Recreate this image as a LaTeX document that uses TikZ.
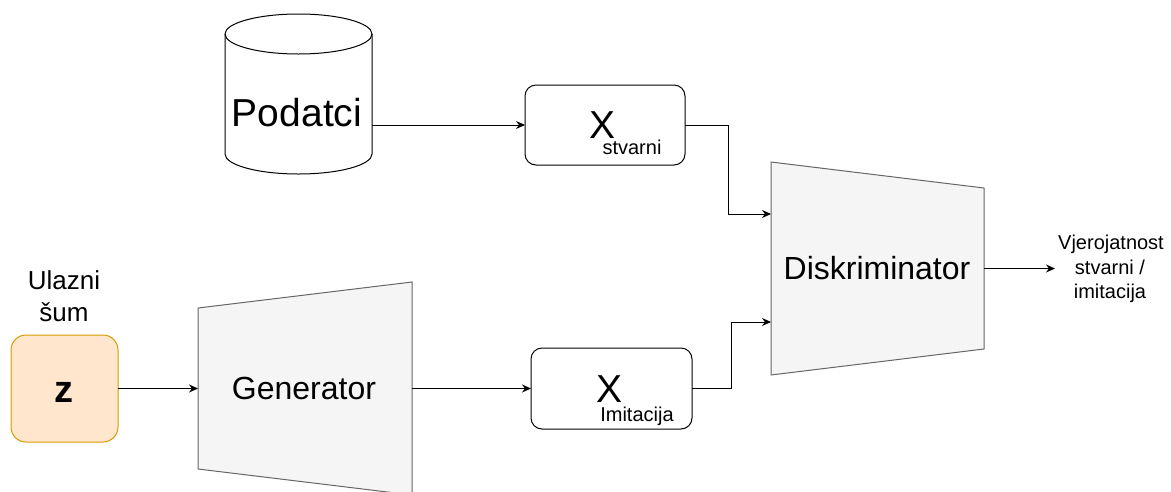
\documentclass[tikz,border=0pt]{standalone}
\usepackage{fontspec}
\setmainfont{Liberation Sans}
\usetikzlibrary{arrows.meta,calc}
\definecolor{trapfill}{HTML}{F5F5F5}
\definecolor{trapdraw}{HTML}{666666}
\definecolor{zfill}{HTML}{FFE6CC}
\definecolor{zdraw}{HTML}{D79B00}
\tikzset{
  x=1pt, y=1pt,
  holder/.style={draw=none, inner sep=0pt, outer sep=0pt},
  rbox/.style={draw=black, line width=1pt, rounded corners=11pt, inner sep=0pt, outer sep=0pt},
  trap/.style={draw=trapdraw, fill=trapfill, line width=1pt},
  conn/.style={line width=1pt, -{Stealth[length=9pt,width=8pt,inset=3pt]}},
  lbl/.style={anchor=base, inner sep=0pt},
  fbig/.style={font=\fontsize{32}{38}\selectfont},
  fhuge/.style={font=\fontsize{39}{44}\selectfont},
  fsub/.style={font=\fontsize{20}{24}\selectfont},
  fmid/.style={font=\fontsize{26}{32}\selectfont},
}
\begin{document}
\begin{tikzpicture}
\useasboundingbox (0,0) rectangle (1171,-491);

% Podatci cylinder
\node[holder, minimum width=147pt, minimum height=160pt] (podatci) at (298.5,-94) {};
\draw[line width=1pt, fill=white]
  (225,-34) -- (225,-154) arc[start angle=180, end angle=360, x radius=73.5, y radius=20]
  -- (372,-34) arc[start angle=0, end angle=180, x radius=73.5, y radius=20] -- cycle;
\draw[line width=1pt] (225,-34) arc[start angle=180, end angle=360, x radius=73.5, y radius=20];
\node[lbl, fhuge] (podatcitxt) at (297,-126) {Podatci};

% X stvarni
\node[rbox, minimum width=160pt, minimum height=80pt] (xs) at (605,-125) {};
\node[lbl, fhuge] (xstxt) at (603,-138) {X};
\node[lbl, fsub] (xssub) at (632,-154) {stvarni};

% z input
\node[rbox, draw=zdraw, fill=zfill, rounded corners=15pt, minimum width=107pt, minimum height=107pt] (z) at (64.5,-388.5) {};
\node[lbl, font=\fontsize{38}{44}\selectfont\bfseries] (ztxt) at (64,-402) {z};
\node[lbl, fmid] (ul1) at (64,-289) {Ulazni};
\node[lbl, fmid] (ul2) at (64,-321) {šum};

% Generator
\node[holder, minimum width=214pt, minimum height=161pt] (gen) at (305,-388.5) {};
\draw[trap] (198,-308) -- (412,-282) -- (412,-495) -- (198,-469) -- cycle;
\node[lbl, fbig] (gentxt) at (304,-399) {Generator};

% X Imitacija
\node[rbox, minimum width=161pt, minimum height=81pt] (xi) at (611.5,-388.5) {};
\node[lbl, fhuge] (xitxt) at (610,-402) {X};
\node[lbl, fsub] (xisub) at (637,-421) {Imitacija};

% Diskriminator
\node[holder, minimum width=213pt, minimum height=213pt] (disk) at (877.5,-268.5) {};
\draw[trap] (771,-162) -- (984,-188) -- (984,-349) -- (771,-375) -- cycle;
\node[lbl, fbig] (disktxt) at (877,-279) {Diskriminator};
\coordinate (din1) at (771,-214);
\coordinate (din2) at (771,-322);

% output label
\node[lbl, fsub] (out1) at (1111,-249) {Vjerojatnost};
\node[lbl, fsub] (out2) at (1110,-274) {stvarni /};
\node[lbl, fsub] (out3) at (1110,-298) {imitacija};

% connectors
\draw[conn] (podatci.east |- xs.west) -- (xs.west);
\draw[conn] (z.east) -- (gen.west);
\draw[conn] (gen.east) -- (xi.west);
\draw[conn] (xs.east) -- ++(43,0) |- (din1);
\draw[conn] (xi.east) -- ++(39,0) |- (din2);
\draw[conn] (disk.east) -- ($(disk.east -| out1.west)+(-3,0)$);
\end{tikzpicture}
\end{document}
